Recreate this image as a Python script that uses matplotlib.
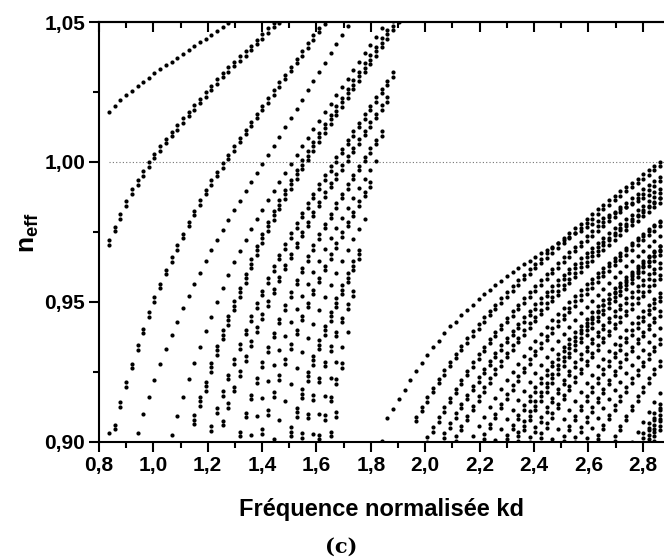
import matplotlib.pyplot as plt
from matplotlib.ticker import MultipleLocator, FuncFormatter

plt.rcParams['font.family'] = ['Liberation Sans', 'DejaVu Sans']
plt.rcParams['font.weight'] = 'bold'
plt.rcParams['mathtext.fontset'] = 'custom'
plt.rcParams['mathtext.rm'] = 'Liberation Sans'
plt.rcParams['mathtext.bf'] = 'Liberation Sans:bold'

# normalised frequency samples kd (one column of dots per sample)
KD = [0.837, 0.858, 0.879, 0.900, 0.921, 0.942, 0.962, 0.983, 1.004, 1.025,
      1.046, 1.067, 1.088, 1.109, 1.130, 1.151, 1.171, 1.192, 1.213, 1.234,
      1.255, 1.276, 1.297, 1.318, 1.339, 1.360, 1.380, 1.401, 1.422, 1.443,
      1.464, 1.485, 1.506, 1.527, 1.548, 1.569, 1.589, 1.610, 1.631, 1.652,
      1.673, 1.694, 1.715, 1.736, 1.757, 1.778, 1.798, 1.819, 1.840, 1.861,
      1.882, 1.903, 1.924, 1.945, 1.966, 1.987, 2.007, 2.028, 2.049, 2.070,
      2.091, 2.112, 2.133, 2.154, 2.175, 2.196, 2.216, 2.237, 2.258, 2.279,
      2.300, 2.321, 2.342, 2.363, 2.384, 2.405, 2.425, 2.446, 2.467, 2.488,
      2.509, 2.530, 2.551, 2.572, 2.593, 2.614, 2.634, 2.655, 2.676, 2.697,
      2.718, 2.739, 2.760, 2.781, 2.802, 2.823, 2.843, 2.864]

# n_eff of each mode branch, starting at sample index *_start
# *_mult = number of near-degenerate dots stacked at each sample
left1_start, left1_mult = 0, 1
left1 = [1.0180, 1.0200, 1.0220, 1.0238, 1.0255, 1.0270, 1.0286, 1.0301, 1.0317, 1.0331,
         1.0345, 1.0358, 1.0373, 1.0387, 1.0400, 1.0414, 1.0427, 1.0440, 1.0454, 1.0467,
         1.0481, 1.0495]

left2_start, left2_mult = 0, 2
left2 = [0.9705, 0.9752, 0.9798, 0.9843, 0.9886, 0.9918, 0.9951, 0.9983, 1.0013, 1.0040,
         1.0067, 1.0092, 1.0116, 1.0140, 1.0163, 1.0186, 1.0210, 1.0233, 1.0257, 1.0280,
         1.0303, 1.0323, 1.0342, 1.0361, 1.0380, 1.0400, 1.0420, 1.0441, 1.0461, 1.0481,
         1.0498]

left3_start, left3_mult = 1, 2
left3 = [0.9046, 0.9126, 0.9198, 0.9263, 0.9329, 0.9388, 0.9448, 0.9501, 0.9549, 0.9599,
         0.9644, 0.9686, 0.9728, 0.9770, 0.9810, 0.9848, 0.9884, 0.9918, 0.9950, 0.9980,
         1.0010, 1.0040, 1.0070, 1.0100, 1.0128, 1.0156, 1.0184, 1.0212, 1.0240, 1.0268,
         1.0296, 1.0324, 1.0352, 1.0380, 1.0408, 1.0436, 1.0464, 1.0492]

left4_start, left4_mult = 5, 1
left4 = [0.9033, 0.9100, 0.9162, 0.9221, 0.9278, 0.9331, 0.9382, 0.9430, 0.9477, 0.9521,
         0.9563, 0.9605, 0.9646, 0.9684, 0.9722, 0.9758, 0.9793, 0.9827, 0.9861, 0.9895,
         0.9928, 0.9961, 0.9994, 1.0026, 1.0058, 1.0091, 1.0124, 1.0157, 1.0190, 1.0223,
         1.0256, 1.0289, 1.0322, 1.0355, 1.0388, 1.0421, 1.0454, 1.0487]

left5_start, left5_mult = 11, 1
left5 = [0.9025, 0.9094, 0.9162, 0.9224, 0.9283, 0.9340, 0.9396, 0.9448, 0.9499, 0.9549,
         0.9596, 0.9642, 0.9683, 0.9722, 0.9759, 0.9795, 0.9830, 0.9864, 0.9897, 0.9930,
         0.9962, 0.9994, 1.0025, 1.0056, 1.0087, 1.0118, 1.0148, 1.0178, 1.0208, 1.0238,
         1.0268, 1.0298, 1.0328, 1.0358, 1.0388, 1.0418, 1.0448, 1.0478]

left6_start, left6_mult = 15, 3
left6 = [0.9064, 0.9130, 0.9183, 0.9251, 0.9311, 0.9367, 0.9418, 0.9471, 0.9519, 0.9569,
         0.9620, 0.9668, 0.9712, 0.9754, 0.9794, 0.9832, 0.9869, 0.9905, 0.9940, 0.9974,
         1.0007, 1.0040, 1.0072, 1.0104, 1.0136, 1.0167, 1.0198, 1.0229, 1.0260, 1.0290,
         1.0320, 1.0350, 1.0380, 1.0410, 1.0440, 1.0470, 1.0500]

left7_start, left7_mult = 18, 2
left7 = [0.9040, 0.9105, 0.9166, 0.9224, 0.9280, 0.9333, 0.9384, 0.9433, 0.9480, 0.9525,
         0.9569, 0.9611, 0.9652, 0.9691, 0.9729, 0.9766, 0.9802, 0.9837, 0.9871, 0.9904,
         0.9937, 0.9969, 1.0001, 1.0032, 1.0063, 1.0094, 1.0125, 1.0155, 1.0185, 1.0215,
         1.0245, 1.0275, 1.0305]

left16_start, left16_mult = 20, 2
left16 = [0.9060, 0.9122, 0.9181, 0.9237, 0.9291, 0.9343, 0.9393, 0.9441, 0.9487, 0.9532,
          0.9575, 0.9617, 0.9657, 0.9696, 0.9734, 0.9771, 0.9807, 0.9842, 0.9876, 0.9909,
          0.9941, 0.9973, 1.0004, 1.0035, 1.0066, 1.0096, 1.0126, 1.0156, 1.0186, 1.0215]

left8_start, left8_mult = 23, 2
left8 = [0.9020, 0.9088, 0.9152, 0.9212, 0.9269, 0.9323, 0.9375, 0.9425, 0.9473, 0.9519,
         0.9563, 0.9606, 0.9647, 0.9687, 0.9726, 0.9764, 0.9800, 0.9836, 0.9871, 0.9905,
         0.9938, 0.9970, 1.0002, 1.0033, 1.0064, 1.0094]

left17_start, left17_mult = 25, 1
left17 = [0.9025, 0.9093, 0.9157, 0.9217, 0.9274, 0.9328, 0.9380, 0.9429, 0.9476, 0.9521,
          0.9565, 0.9607, 0.9648, 0.9688, 0.9727, 0.9765, 0.9801, 0.9837, 0.9872, 0.9906,
          0.9939, 0.9971, 1.0003]

left9_start, left9_mult = 27, 2
left9 = [0.9030, 0.9098, 0.9162, 0.9222, 0.9279, 0.9333, 0.9385, 0.9434, 0.9481, 0.9527,
         0.9571, 0.9613, 0.9654, 0.9694, 0.9733, 0.9771, 0.9807, 0.9843, 0.9878, 0.9912]

left10_start, left10_mult = 29, 1
left10 = [0.9010, 0.9080, 0.9146, 0.9208, 0.9266, 0.9321, 0.9373, 0.9423, 0.9471, 0.9517,
          0.9561, 0.9604, 0.9645, 0.9685, 0.9724, 0.9761, 0.9797]

left11_start, left11_mult = 32, 3
left11 = [0.9020, 0.9090, 0.9156, 0.9218, 0.9276, 0.9331, 0.9383, 0.9433, 0.9481, 0.9527,
          0.9571, 0.9613, 0.9654]

left12_start, left12_mult = 34, 2
left12 = [0.9015, 0.9085, 0.9151, 0.9213, 0.9271, 0.9326, 0.9378, 0.9428, 0.9476, 0.9522]

left13_start, left13_mult = 36, 1
left13 = [0.9030, 0.9100, 0.9166, 0.9228, 0.9286, 0.9341, 0.9393]

left14_start, left14_mult = 37, 2
left14 = [0.9010, 0.9080, 0.9146, 0.9208, 0.9266]

left15_start, left15_mult = 39, 2
left15 = [0.9020, 0.9090]

right1_start, right1_mult = 48, 1
right1 = [0.9003, 0.9085, 0.9117, 0.9152, 0.9186, 0.9221, 0.9254, 0.9283, 0.9311, 0.9340,
          0.9362, 0.9390, 0.9414, 0.9430, 0.9454, 0.9471, 0.9489, 0.9510, 0.9529, 0.9543,
          0.9561, 0.9576, 0.9593, 0.9608, 0.9620, 0.9636, 0.9648, 0.9662, 0.9674, 0.9686,
          0.9698, 0.9710, 0.9721, 0.9733, 0.9745, 0.9755, 0.9767, 0.9779, 0.9790, 0.9799,
          0.9811, 0.9819, 0.9831, 0.9840, 0.9850, 0.9862, 0.9870, 0.9882, 0.9892, 0.9902]

right2_start, right2_mult = 54, 2
right2 = [0.9075, 0.9110, 0.9144, 0.9177, 0.9209, 0.9240, 0.9270, 0.9299, 0.9327, 0.9354,
          0.9380, 0.9405, 0.9429, 0.9452, 0.9475, 0.9497, 0.9519, 0.9540, 0.9561, 0.9581,
          0.9601, 0.9620, 0.9639, 0.9658, 0.9676, 0.9694, 0.9712, 0.9730, 0.9747, 0.9764,
          0.9781, 0.9798, 0.9815, 0.9831, 0.9847, 0.9863, 0.9879, 0.9895, 0.9910, 0.9925,
          0.9940, 0.9955, 0.9970, 0.9985]

right3_start, right3_mult = 56, 2
right3 = [0.9000, 0.9037, 0.9073, 0.9108, 0.9142, 0.9175, 0.9207, 0.9238, 0.9268, 0.9297,
          0.9325, 0.9352, 0.9378, 0.9403, 0.9427, 0.9451, 0.9474, 0.9497, 0.9519, 0.9541,
          0.9562, 0.9583, 0.9603, 0.9623, 0.9643, 0.9662, 0.9681, 0.9700, 0.9718, 0.9736,
          0.9754, 0.9771, 0.9788, 0.9805, 0.9822, 0.9838, 0.9854, 0.9870, 0.9886, 0.9901,
          0.9916, 0.9931]

right4_start, right4_mult = 59, 2
right4 = [0.9015, 0.9051, 0.9086, 0.9120, 0.9153, 0.9185, 0.9216, 0.9246, 0.9275, 0.9303,
          0.9330, 0.9356, 0.9381, 0.9406, 0.9430, 0.9453, 0.9476, 0.9498, 0.9520, 0.9541,
          0.9562, 0.9582, 0.9602, 0.9621, 0.9640, 0.9659, 0.9677, 0.9695, 0.9713, 0.9730,
          0.9747, 0.9764, 0.9780, 0.9796, 0.9812, 0.9828, 0.9843, 0.9858, 0.9873]

right5_start, right5_mult = 61, 2
right5 = [0.9005, 0.9042, 0.9078, 0.9113, 0.9147, 0.9180, 0.9212, 0.9243, 0.9273, 0.9302,
          0.9330, 0.9357, 0.9383, 0.9408, 0.9432, 0.9456, 0.9479, 0.9502, 0.9524, 0.9546,
          0.9567, 0.9588, 0.9608, 0.9628, 0.9648, 0.9667, 0.9686, 0.9704, 0.9722, 0.9740,
          0.9757, 0.9774, 0.9791, 0.9807, 0.9823, 0.9839, 0.9855]

right20_start, right20_mult = 64, 1
right20 = [0.9020, 0.9056, 0.9091, 0.9125, 0.9158, 0.9190, 0.9221, 0.9251, 0.9280, 0.9308,
           0.9335, 0.9361, 0.9386, 0.9410, 0.9434, 0.9457, 0.9479, 0.9501, 0.9522, 0.9543,
           0.9563, 0.9583, 0.9602, 0.9621, 0.9640, 0.9658, 0.9676, 0.9693, 0.9710, 0.9727,
           0.9743, 0.9759, 0.9775, 0.9790]

right21_start, right21_mult = 66, 2
right21 = [0.9012, 0.9049, 0.9085, 0.9120, 0.9154, 0.9187, 0.9219, 0.9250, 0.9280, 0.9309,
           0.9337, 0.9364, 0.9390, 0.9415, 0.9439, 0.9463, 0.9486, 0.9508, 0.9530, 0.9551,
           0.9572, 0.9592, 0.9612, 0.9631, 0.9650, 0.9668, 0.9686, 0.9704, 0.9721, 0.9738,
           0.9755, 0.9771]

right22_start, right22_mult = 68, 1
right22 = [0.9008, 0.9045, 0.9081, 0.9116, 0.9150, 0.9183, 0.9215, 0.9246, 0.9276, 0.9305,
           0.9333, 0.9360, 0.9386, 0.9411, 0.9435, 0.9459, 0.9482, 0.9504, 0.9526, 0.9547,
           0.9568, 0.9588, 0.9608, 0.9627, 0.9646, 0.9664, 0.9682, 0.9700, 0.9717, 0.9734]

right6_start, right6_mult = 70, 2
right6 = [0.9010, 0.9046, 0.9081, 0.9115, 0.9148, 0.9180, 0.9211, 0.9241, 0.9270, 0.9298,
          0.9325, 0.9351, 0.9376, 0.9400, 0.9424, 0.9447, 0.9469, 0.9491, 0.9512, 0.9533,
          0.9553, 0.9573, 0.9592, 0.9611, 0.9630, 0.9648, 0.9666, 0.9684]

right7_start, right7_mult = 72, 3
right7 = [0.9005, 0.9042, 0.9078, 0.9113, 0.9147, 0.9180, 0.9212, 0.9243, 0.9273, 0.9302,
          0.9330, 0.9357, 0.9383, 0.9408, 0.9432, 0.9456, 0.9479, 0.9502, 0.9524, 0.9546,
          0.9567, 0.9588, 0.9608, 0.9628, 0.9648, 0.9667]

right8_start, right8_mult = 74, 2
right8 = [0.9000, 0.9037, 0.9073, 0.9108, 0.9142, 0.9175, 0.9207, 0.9238, 0.9268, 0.9297,
          0.9325, 0.9352, 0.9378, 0.9403, 0.9427, 0.9451, 0.9474, 0.9497, 0.9519, 0.9541,
          0.9562, 0.9583, 0.9603, 0.9623]

right9_start, right9_mult = 76, 2
right9 = [0.9015, 0.9051, 0.9086, 0.9120, 0.9153, 0.9185, 0.9216, 0.9246, 0.9275, 0.9303,
          0.9330, 0.9356, 0.9381, 0.9406, 0.9430, 0.9453, 0.9476, 0.9498, 0.9520, 0.9541,
          0.9562, 0.9582]

right10_start, right10_mult = 78, 1
right10 = [0.9010, 0.9046, 0.9081, 0.9115, 0.9148, 0.9180, 0.9211, 0.9241, 0.9270, 0.9298,
           0.9325, 0.9351, 0.9376, 0.9400, 0.9424, 0.9447, 0.9469, 0.9491, 0.9512, 0.9533]

right11_start, right11_mult = 80, 2
right11 = [0.9005, 0.9042, 0.9078, 0.9113, 0.9147, 0.9180, 0.9212, 0.9243, 0.9273, 0.9302,
           0.9330, 0.9357, 0.9383, 0.9408, 0.9432, 0.9456, 0.9479, 0.9502]

right12_start, right12_mult = 82, 2
right12 = [0.9000, 0.9037, 0.9073, 0.9108, 0.9142, 0.9175, 0.9207, 0.9238, 0.9268, 0.9297,
           0.9325, 0.9352, 0.9378, 0.9403, 0.9427, 0.9451]

right13_start, right13_mult = 84, 1
right13 = [0.9015, 0.9051, 0.9086, 0.9120, 0.9153, 0.9185, 0.9216, 0.9246, 0.9275, 0.9303,
           0.9330, 0.9356, 0.9381, 0.9406]

right14_start, right14_mult = 86, 2
right14 = [0.9010, 0.9046, 0.9081, 0.9115, 0.9148, 0.9180, 0.9211, 0.9241, 0.9270, 0.9298,
           0.9325, 0.9351]

right15_start, right15_mult = 89, 2
right15 = [0.9005, 0.9042, 0.9078, 0.9113, 0.9147, 0.9180, 0.9212, 0.9243, 0.9273]

right16_start, right16_mult = 92, 1
right16 = [0.9000, 0.9037, 0.9073, 0.9108, 0.9142, 0.9175]

right17_start, right17_mult = 94, 2
right17 = [0.9015, 0.9051, 0.9086, 0.9120]

right18_start, right18_mult = 95, 3
right18 = [0.9010, 0.9046, 0.9081]

right19_start, right19_mult = 96, 3
right19 = [0.9005, 0.9042]

# isolated dot at the lower left
extra_kd = [0.837]
extra_n = [0.9033]

# spacing between stacked near-degenerate dots
GAP = 0.0016
REF_N = 1.00
X_MIN, X_MAX = 0.8, 2.878
Y_MIN, Y_MAX = 0.90, 1.05

branches = [
    (left1_start, left1, left1_mult), (left2_start, left2, left2_mult),
    (left3_start, left3, left3_mult), (left4_start, left4, left4_mult),
    (left5_start, left5, left5_mult), (left6_start, left6, left6_mult),
    (left7_start, left7, left7_mult), (left8_start, left8, left8_mult),
    (left9_start, left9, left9_mult), (left10_start, left10, left10_mult),
    (left11_start, left11, left11_mult), (left12_start, left12, left12_mult),
    (left13_start, left13, left13_mult), (left14_start, left14, left14_mult),
    (left15_start, left15, left15_mult), (left16_start, left16, left16_mult),
    (left17_start, left17, left17_mult),
    (right1_start, right1, right1_mult), (right2_start, right2, right2_mult),
    (right3_start, right3, right3_mult), (right4_start, right4, right4_mult),
    (right5_start, right5, right5_mult), (right6_start, right6, right6_mult),
    (right7_start, right7, right7_mult), (right8_start, right8, right8_mult),
    (right9_start, right9, right9_mult), (right10_start, right10, right10_mult),
    (right11_start, right11, right11_mult), (right12_start, right12, right12_mult),
    (right13_start, right13, right13_mult), (right14_start, right14, right14_mult),
    (right15_start, right15, right15_mult), (right16_start, right16, right16_mult),
    (right17_start, right17, right17_mult), (right18_start, right18, right18_mult),
    (right19_start, right19, right19_mult), (right20_start, right20, right20_mult),
    (right21_start, right21, right21_mult), (right22_start, right22, right22_mult),
]

fig = plt.figure(figsize=(6.64, 5.57), dpi=100)
ax = fig.add_axes([0.149, 0.2065, 0.851, 0.754])

ax.hlines(REF_N, KD[0], X_MAX, colors='0.45', linestyles=(0, (1, 2)), linewidth=0.8, zorder=1)

for start, vals, mult in branches:
    xs = KD[start:start + len(vals)]
    for m in range(mult):
        ax.scatter(xs, [v + m * GAP for v in vals], s=9, c='black', linewidths=0, zorder=2)
ax.scatter(extra_kd, extra_n, s=9, c='black', linewidths=0, zorder=2)

ax.set_xlim(X_MIN, X_MAX)
ax.set_ylim(Y_MIN, Y_MAX)

ax.xaxis.set_major_locator(MultipleLocator(0.2))
ax.xaxis.set_minor_locator(MultipleLocator(0.1))
ax.yaxis.set_major_locator(MultipleLocator(0.05))
ax.yaxis.set_minor_locator(MultipleLocator(0.025))
ax.xaxis.set_major_formatter(FuncFormatter(lambda v, p: f'{v:.1f}'.replace('.', ',')))
ax.yaxis.set_major_formatter(FuncFormatter(lambda v, p: f'{v:.2f}'.replace('.', ',')))

ax.tick_params(which='major', direction='out', length=7, width=1.5, labelsize=15, pad=3)
ax.tick_params(which='minor', direction='out', length=4, width=1.5)
ax.spines['right'].set_visible(False)
for side in ['left', 'bottom', 'top']:
    ax.spines[side].set_linewidth(1.5)

top = ax.secondary_xaxis('top')
top.xaxis.set_major_locator(MultipleLocator(0.2))
top.xaxis.set_minor_locator(MultipleLocator(0.1))
top.tick_params(which='major', direction='in', length=7, width=1.5, labeltop=False)
top.tick_params(which='minor', direction='in', length=4, width=1.5)
top.spines['top'].set_linewidth(1.5)

ax.set_xlabel('Fréquence normalisée kd', fontsize=17, fontweight='bold', labelpad=17)
ax.set_ylabel(r'$\mathbf{n_{eff}}$', fontsize=19, labelpad=2)

fig.text(0.514, 0.018, '(c)', family='DejaVu Serif', fontweight='bold', fontsize=15,
         ha='center', va='center')

fig.savefig('out.png', dpi=100)
